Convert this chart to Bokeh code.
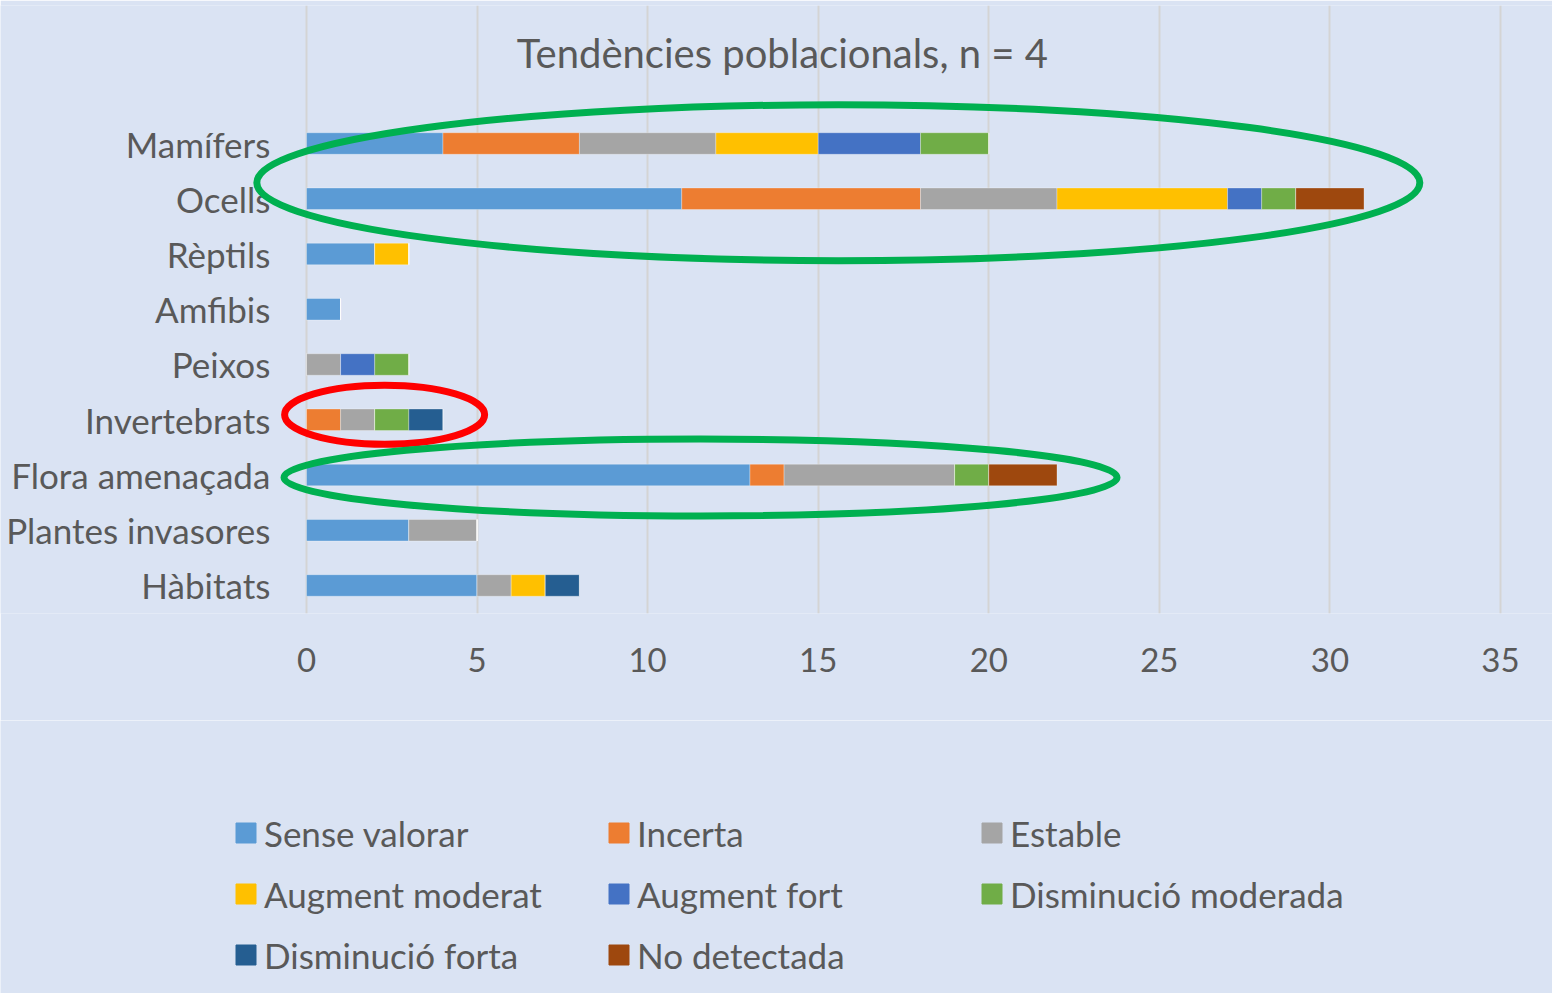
from bokeh.plotting import figure
from bokeh.layouts import column
from bokeh.models import ColumnDataSource, Range1d, FixedTicker, Legend, LegendItem, Label
from bokeh.core.properties import value
from bokeh.embed import file_html
from bokeh.resources import INLINE

categories = ["Mamífers", "Ocells", "Rèptils", "Amfibis", "Peixos", "Invertebrats",
              "Flora amenaçada", "Plantes invasores", "Hàbitats"]
series = ["Sense valorar", "Incerta", "Estable", "Augment moderat", "Augment fort",
          "Disminució moderada", "Disminució forta", "No detectada"]
colors = ["#5b9bd5", "#ed7d31", "#a5a5a5", "#ffc000", "#4472c4", "#70ad47", "#255e91", "#9e480e"]

sense_valorar = [4, 11, 2, 1, 0, 0, 13, 3, 5]
incerta = [4, 7, 0, 0, 0, 1, 1, 0, 0]
estable = [4, 4, 0, 0, 1, 1, 5, 2, 1]
augment_moderat = [3, 5, 1, 0, 0, 0, 0, 0, 1]
augment_fort = [3, 1, 0, 0, 1, 0, 0, 0, 0]
disminucio_moderada = [2, 1, 0, 0, 1, 1, 1, 0, 0]
disminucio_forta = [0, 0, 0, 0, 0, 1, 0, 0, 1]
no_detectada = [0, 2, 0, 0, 0, 0, 2, 0, 0]

x_ticks = [0, 5, 10, 15, 20, 25, 30, 35]
title_text = "Tendències poblacionals, n = 4"

FONT = "Lato"
TXT = "#595959"
BG = "#dae3f3"
W = 1552

n = len(categories)
ypos = [n - 1 - i for i in range(n)]
data = {"y": ypos, "cat": categories}
cols = [sense_valorar, incerta, estable, augment_moderat, augment_fort,
        disminucio_moderada, disminucio_forta, no_detectada]
for s, c in zip(series, cols):
    data[s] = c
source = ColumnDataSource(data)

# --- main chart ---
p = figure(width=W, height=720, output_backend="svg", toolbar_location=None,
           x_range=Range1d(-8.970, 36.525), y_range=Range1d(-0.507, 10.498),
           y_axis_location=None,
           min_border_left=0, min_border_right=0, min_border_top=5, min_border_bottom=107)
p.background_fill_color = BG
p.border_fill_color = BG
p.outline_line_color = None

renderers = p.hbar_stack(series, y="y", height=0.39, color=colors, source=source,
                         line_color="white", line_alpha=0.3, line_width=1)

p.xaxis.ticker = FixedTicker(ticks=x_ticks)
p.xaxis.axis_line_color = None
p.xaxis.major_tick_line_color = None
p.xaxis.minor_tick_line_color = None
p.xaxis.major_label_text_font = FONT
p.xaxis.major_label_text_font_size = "33px"
p.xaxis.major_label_text_color = TXT
p.xaxis.major_label_standoff = 28

p.xgrid.grid_line_color = "#d4d4d4"
p.xgrid.grid_line_width = 2
p.ygrid.grid_line_color = None

# category labels
p.text(x=-1.06, y="y", text="cat", source=source, text_align="right", text_baseline="middle",
       text_font=value(FONT), text_font_size="35px", text_color=TXT)

p.add_layout(Label(x=13.95, y=9.63, text=title_text, text_align="center",
                   text_baseline="middle", text_font=FONT, text_font_size="40px",
                   text_color=TXT))

# annotation ellipses
p.ellipse(x=15.59, y=7.29, width=1163, height=156, width_units="screen", height_units="screen",
          fill_color=None, line_color="#00b050", line_width=7)
p.ellipse(x=2.29, y=3.09, width=200, height=59, width_units="screen", height_units="screen",
          fill_color=None, line_color="#ff0000", line_width=7)
p.ellipse(x=11.55, y=1.955, width=833, height=77, width_units="screen", height_units="screen",
          fill_color=None, line_color="#00b050", line_width=7)

# --- legend panel ---
q = figure(width=W, height=273, output_backend="svg", toolbar_location=None,
           x_range=Range1d(0, 1), y_range=Range1d(0, 1),
           x_axis_location=None, y_axis_location=None,
           min_border_left=0, min_border_right=0, min_border_top=0, min_border_bottom=0)
q.background_fill_color = BG
q.border_fill_color = BG
q.outline_line_color = None
q.grid.visible = False

legend_src = ColumnDataSource({"y": [0], "l": [0], "r": [1]})
dummy = [q.hbar(y="y", left="l", right="r", height=1, color=c, source=legend_src, visible=False)
         for c in colors]
items = [LegendItem(label=s, renderers=[r]) for s, r in zip(series, dummy)]
legend = Legend(items=items, orientation="horizontal", ncols=3,
                location=(233, 8), glyph_width=25, glyph_height=25, label_standoff=6,
                label_width=342, label_height=61, spacing=0,
                label_text_font=FONT, label_text_font_size="35px", label_text_color=TXT,
                border_line_color=None, background_fill_alpha=0, margin=0, padding=0)
q.add_layout(legend, "center")

layout = column(p, q, spacing=0)
open("out.html", "w").write(file_html(layout, INLINE))
